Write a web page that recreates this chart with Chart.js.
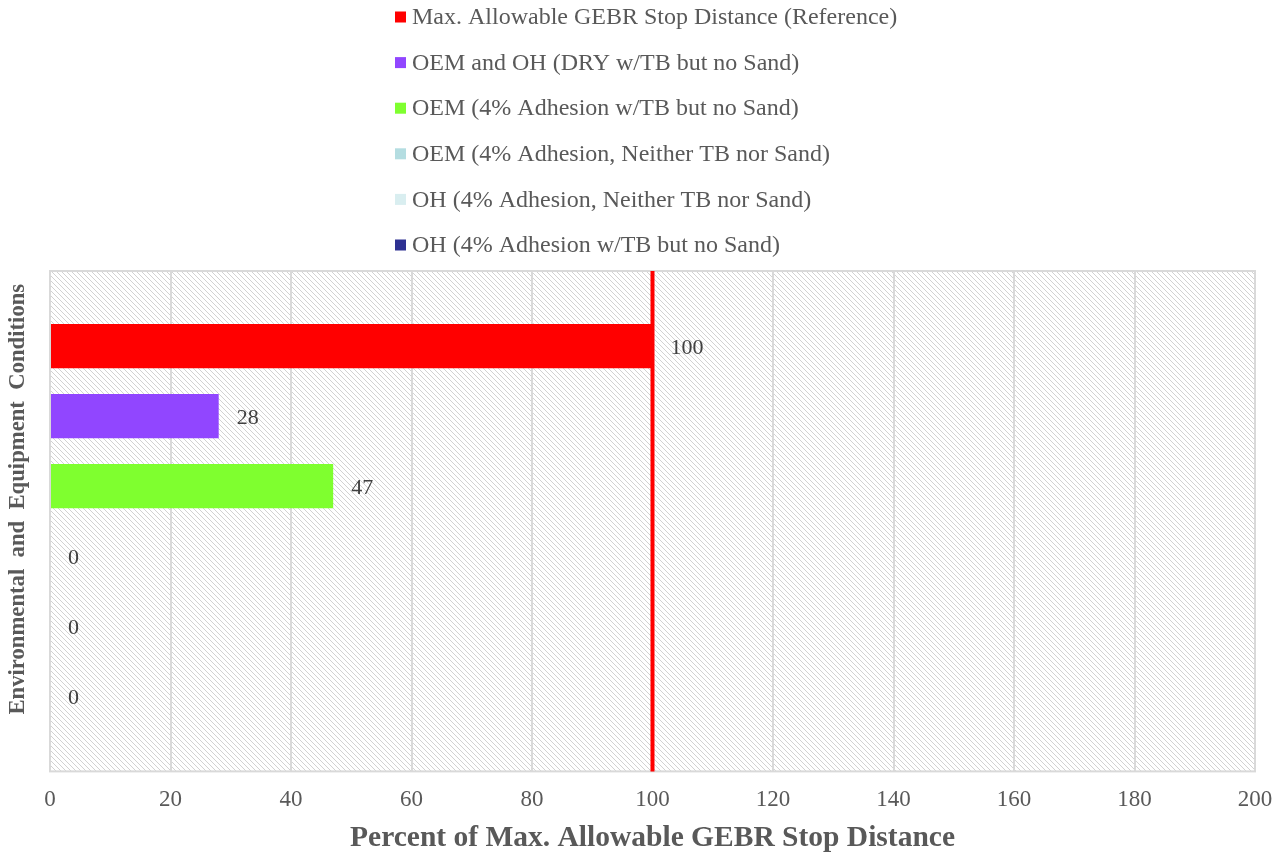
<!DOCTYPE html>
<html>
<head>
<meta charset="utf-8">
<script src="https://cdn.jsdelivr.net/npm/chart.js@4/dist/chart.umd.min.js"></script>
<style>
  html, body { margin: 0; padding: 0; background: #fff; }
  #wrap { width: 1277px; height: 854px; position: relative; }
</style>
</head>
<body>
<div id="wrap"><canvas id="myChart" width="1277" height="854"></canvas></div>
<script>
const seriesNames = [
  "Max. Allowable GEBR Stop Distance (Reference)",
  "OEM and OH (DRY w/TB but no Sand)",
  "OEM (4% Adhesion w/TB but no Sand)",
  "OEM (4% Adhesion, Neither TB nor Sand)",
  "OH (4% Adhesion, Neither TB nor Sand)",
  "OH (4% Adhesion w/TB but no Sand)"
];
const seriesValues = [100, 28, 47, 0, 0, 0];
const seriesColors = ["#ff0000", "#9146ff", "#7fff2f", "#b4dde1", "#d9eef0", "#2e3192"];
const categories = [""];
const xTicks = [0, 20, 40, 60, 80, 100, 120, 140, 160, 180, 200];
const referenceValue = 100;
const xTitle = "Percent of Max. Allowable GEBR Stop Distance";
const yTitle = "Environmental  and  Equipment  Conditions";

const serif = "'Liberation Serif', 'Times New Roman', serif";
const grey = "#595959";

// hatch fill for the plot area
function makeHatch(ctx) {
  const c = document.createElement("canvas");
  c.width = 5;
  c.height = 5;
  const g = c.getContext("2d");
  g.fillStyle = "#ffffff";
  g.fillRect(0, 0, 5, 5);
  g.strokeStyle = "#d2d2d2";
  g.lineWidth = 1;
  g.beginPath();
  g.moveTo(-1, -1); g.lineTo(6, 6);
  g.moveTo(-1, 4); g.lineTo(1, 6);
  g.moveTo(4, -1); g.lineTo(6, 1);
  g.stroke();
  return ctx.createPattern(c, "repeat");
}

const plotBackground = {
  id: "plotBackground",
  beforeDraw(chart) {
    const { ctx, chartArea: a } = chart;
    ctx.save();
    ctx.fillStyle = makeHatch(ctx);
    ctx.fillRect(a.left, a.top, a.right - a.left, a.bottom - a.top);
    ctx.strokeStyle = "#d9d9d9";
    ctx.lineWidth = 2;
    ctx.strokeRect(a.left, a.top, a.right - a.left, a.bottom - a.top);
    ctx.restore();
  }
};

const refLineAndLabels = {
  id: "refLineAndLabels",
  afterDatasetsDraw(chart) {
    const { ctx, chartArea: a } = chart;
    const x = chart.scales.x.getPixelForValue(referenceValue);
    ctx.save();
    ctx.strokeStyle = "#ff0000";
    ctx.lineWidth = 4;
    ctx.beginPath();
    ctx.moveTo(x, a.top);
    ctx.lineTo(x, a.bottom);
    ctx.stroke();

    ctx.font = "22px " + serif;
    ctx.fillStyle = "#404040";
    ctx.textBaseline = "middle";
    ctx.textAlign = "left";
    chart.data.datasets.forEach((ds, i) => {
      const bar = chart.getDatasetMeta(i).data[0];
      ctx.fillText(String(ds.data[0]), bar.x + 18, bar.y + 2);
    });
    ctx.restore();
  }
};

// legend in one column + axis titles
const stackedLegend = {
  id: "stackedLegend",
  afterDraw(chart) {
    const { ctx, chartArea: a } = chart;
    ctx.save();
    ctx.font = "24px " + serif;
    ctx.textBaseline = "middle";
    ctx.textAlign = "left";
    chart.data.datasets.forEach((ds, i) => {
      const y = 17 + i * 45.6;
      ctx.fillStyle = ds.backgroundColor;
      ctx.fillRect(395, y - 5.5, 11, 11);
      ctx.fillStyle = grey;
      ctx.fillText(ds.label, 412, y + 1);
    });

    ctx.font = "bold 29.5px " + serif;
    ctx.textAlign = "center";
    ctx.fillText(xTitle, (a.left + a.right) / 2, 838);

    ctx.translate(18, a.top + (a.bottom - a.top) / 2 - 22);
    ctx.rotate(-Math.PI / 2);
    ctx.font = "bold 22.7px " + serif;
    ctx.fillText(yTitle, 0, 0);
    ctx.restore();
  }
};

new Chart(document.getElementById("myChart"), {
  type: "bar",
  data: {
    labels: categories,
    datasets: seriesNames.map((name, i) => ({
      label: name,
      data: [seriesValues[i]],
      backgroundColor: seriesColors[i],
      borderWidth: 0,
      categoryPercentage: 0.84,
      barPercentage: 0.63
    }))
  },
  options: {
    indexAxis: "y",
    responsive: false,
    animation: false,
    layout: { padding: { top: 271, right: 22, left: 50, bottom: 25 } },
    plugins: {
      legend: { display: false },
      tooltip: { enabled: false }
    },
    scales: {
      x: {
        min: xTicks[0],
        max: xTicks[xTicks.length - 1],
        afterBuildTicks(scale) {
          scale.ticks = xTicks.map(v => ({ value: v }));
        },
        afterFit(scale) {
          scale.paddingLeft = 0;
          scale.paddingRight = 0;
        },
        grid: { color: "#d9d9d9", lineWidth: 2, drawTicks: false },
        border: { display: false },
        ticks: {
          color: grey,
          padding: 15,
          maxRotation: 0,
          font: { family: serif, size: 23 }
        }
      },
      y: {
        display: false
      }
    }
  },
  plugins: [plotBackground, refLineAndLabels, stackedLegend]
});
</script>
</body>
</html>
